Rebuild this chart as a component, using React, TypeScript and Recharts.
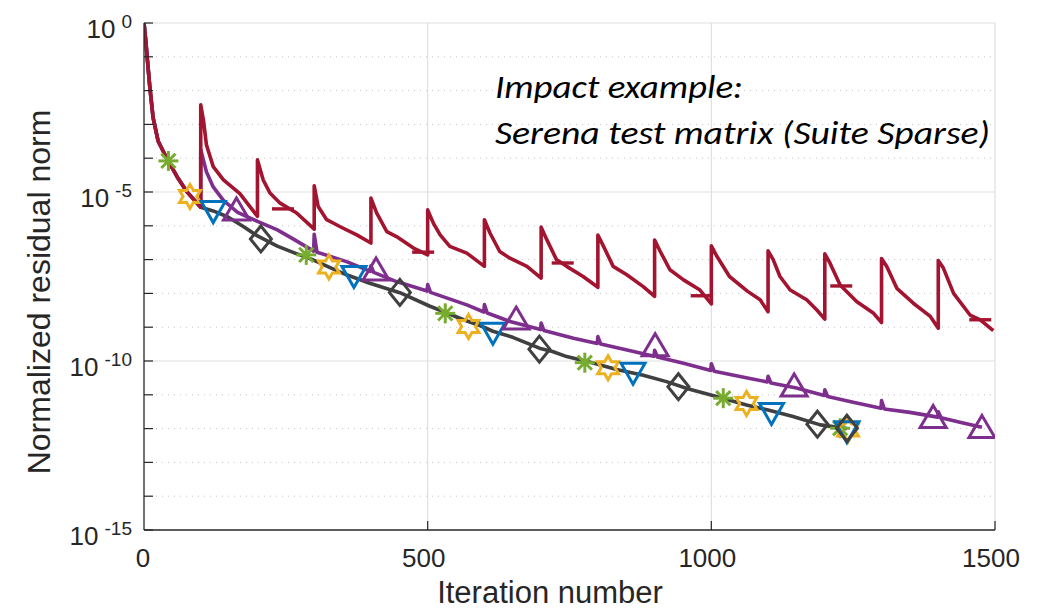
import { ComposedChart, Line, ReferenceLine, Scatter, XAxis, YAxis } from "recharts";

// every curve is stored as [iteration, log10(normalized residual)]
type Pt = [number, number];

const iterTicks = [0, 500, 1000, 1500];
const decades = [0, -1, -2, -3, -4, -5, -6, -7, -8, -9, -10, -11, -12, -13, -14, -15];
const labelledDecades = [0, -5, -10, -15];

const firstCycle: Pt[] = [
  [0, 0], [3, -0.5], [6, -1.09], [10, -1.85], [16, -2.8], [25, -3.5], [40, -4.0],
  [58, -4.54], [75, -4.98], [100, -5.45],
];

const restartedCurve: Pt[] = [
  ...firstCycle,
  [100, -2.42], [105, -2.9], [110, -3.6], [122, -4.25], [140, -4.64], [169, -5.05], [200, -5.72],
  [200, -4.05], [210, -4.64], [222, -5.03], [240, -5.33], [269, -5.62], [300, -6.1],
  [300, -4.82], [307, -5.43], [322, -5.82], [345, -6.02], [375, -6.27], [400, -6.51],
  [400, -5.18], [410, -5.62], [428, -6.17], [445, -6.32], [475, -6.66], [500, -6.86],
  [500, -5.53], [510, -5.92], [522, -6.27], [539, -6.61], [569, -6.81], [600, -7.2],
  [600, -5.82], [610, -6.22], [627, -6.76], [645, -6.96], [675, -7.2], [700, -7.55],
  [700, -6.04], [710, -6.41], [727, -7.0], [745, -7.2], [774, -7.5], [800, -7.82],
  [800, -6.27], [810, -6.61], [827, -7.2], [851, -7.45], [880, -7.8], [900, -8.09],
  [900, -6.42], [910, -6.76], [927, -7.3], [951, -7.6], [980, -7.9], [1000, -8.31],
  [1000, -6.59], [1010, -6.91], [1032, -7.5], [1064, -7.94], [1086, -8.19], [1100, -8.54],
  [1100, -6.74], [1109, -7.0], [1121, -7.5], [1139, -7.9], [1168, -8.19], [1186, -8.49], [1200, -8.76],
  [1200, -6.83], [1209, -7.1], [1227, -7.75], [1256, -8.24], [1286, -8.59], [1300, -8.86],
  [1300, -6.97], [1309, -7.2], [1327, -7.85], [1356, -8.29], [1386, -8.68], [1400, -9.03],
  [1400, -7.03], [1409, -7.25], [1427, -8.0], [1456, -8.64], [1474, -8.78], [1497, -9.1],
];

const purpleCurve: Pt[] = [
  ...firstCycle,
  [100, -3.75], [110, -4.4], [122, -4.85], [140, -5.25], [165, -5.6], [200, -5.87], [235, -6.12],
  [265, -6.41], [299, -6.75], [300, -6.25], [305, -6.78], [357, -7.06], [399, -7.35], [400, -7.18],
  [405, -7.38], [445, -7.65], [499, -7.93], [500, -7.74], [505, -7.97], [569, -8.34], [599, -8.55],
  [600, -8.33], [605, -8.58], [645, -8.83], [699, -9.07], [700, -8.88], [705, -9.1], [757, -9.33],
  [799, -9.48], [800, -9.28], [805, -9.5], [863, -9.72], [899, -9.86], [900, -9.68], [905, -9.88],
  [951, -10.07], [999, -10.28], [1000, -10.08], [1005, -10.3], [1068, -10.52], [1099, -10.62],
  [1100, -10.45], [1105, -10.65], [1150, -10.8], [1199, -11.02], [1200, -10.85], [1205, -11.05],
  [1250, -11.22], [1299, -11.4], [1300, -11.17], [1305, -11.42], [1350, -11.52], [1399, -11.66],
  [1400, -11.5], [1405, -11.68], [1440, -11.82], [1477, -11.96],
];

const darkCurve: Pt[] = [
  ...firstCycle,
  [122, -5.56], [148, -5.74], [175, -6.02], [200, -6.3], [235, -6.6], [265, -6.8], [297, -7.0],
  [330, -7.25], [357, -7.45], [398, -7.7], [451, -7.98], [504, -8.38], [530, -8.55], [563, -8.78],
  [592, -8.95], [615, -9.12], [650, -9.3], [697, -9.62], [720, -9.72], [745, -9.87], [790, -10.05],
  [833, -10.25], [880, -10.42], [921, -10.61], [960, -10.83], [1009, -11.05], [1062, -11.3],
  [1100, -11.45], [1144, -11.64], [1192, -11.89], [1239, -12.0],
];

const redMarks: Pt[] = [[245, -5.5], [492, -6.78], [738, -7.1], [983, -8.07], [1229, -7.78], [1474, -8.78]];
const purpleMarks: Pt[] = [[163, -5.5], [409, -7.28], [656, -8.73], [901, -9.52], [1146, -10.71], [1391, -11.64], [1477, -11.94]];
const darkMarks: Pt[] = [[206, -6.39], [451, -7.97], [697, -9.65], [942, -10.76], [1187, -11.87], [1239, -11.99]];
const greenMarks: Pt[] = [[43, -4.08], [286, -6.86], [531, -8.59], [777, -10.05], [1021, -11.1], [1227, -11.99]];
const yellowMarks: Pt[] = [[81, -5.13], [326, -7.22], [572, -8.98], [818, -10.2], [1062, -11.26], [1241, -12.04]];
const blueMarks: Pt[] = [[122, -5.58], [370, -7.5], [615, -9.18], [862, -10.36], [1106, -11.55], [1239, -12.09]];

const RED = "#A2142F";
const PURPLE = "#7E2F8E";
const DARK = "#404040";
const GREEN = "#77AC30";
const YELLOW = "#EDB120";
const BLUE = "#0072BD";
const AXIS = "#262626";
const GRID = "#dfdfdf";
const MINOR = "#c4c4c4";
const FONT = "'Liberation Sans', Arial, Helvetica, sans-serif";
const LINE_W = 3.6;
const MARK_W = 3;

const toPoints = (pts: Pt[]) => pts.map(([x, e]) => ({ x, y: Math.pow(10, e) }));

type MarkKind = "asterisk" | "hexagram" | "down" | "up" | "diamond" | "dash";

function Marker({ cx, cy, kind, color }: { cx: number; cy: number; kind: MarkKind; color: string }) {
  if (cx == null || cy == null) return null;
  const common = { fill: "none", stroke: color, strokeWidth: MARK_W };
  if (kind === "dash") {
    return <line x1={cx - 11} x2={cx + 11} y1={cy} y2={cy} stroke={color} strokeWidth={3.4} />;
  }
  if (kind === "up") {
    return <polygon points={`${cx},${cy - 11} ${cx + 13},${cy + 11} ${cx - 13},${cy + 11}`} {...common} />;
  }
  if (kind === "down") {
    return <polygon points={`${cx - 12},${cy - 10} ${cx + 12},${cy - 10} ${cx},${cy + 11}`} {...common} />;
  }
  if (kind === "diamond") {
    return <polygon points={`${cx},${cy - 13} ${cx + 10.5},${cy} ${cx},${cy + 13} ${cx - 10.5},${cy}`} {...common} />;
  }
  if (kind === "hexagram") {
    const pts: string[] = [];
    for (let i = 0; i < 12; i++) {
      const r = i % 2 === 0 ? 12 : 6.9;
      const a = -Math.PI / 2 + (i * Math.PI) / 6;
      pts.push(`${cx + r * Math.cos(a)},${cy + r * Math.sin(a)}`);
    }
    return <polygon points={pts.join(" ")} {...common} />;
  }
  // asterisk
  const d = 10;
  const k = 7.1;
  return (
    <g stroke={color} strokeWidth={MARK_W}>
      <line x1={cx - d} x2={cx + d} y1={cy} y2={cy} />
      <line x1={cx} x2={cx} y1={cy - d} y2={cy + d} />
      <line x1={cx - k} x2={cx + k} y1={cy - k} y2={cy + k} />
      <line x1={cx - k} x2={cx + k} y1={cy + k} y2={cy - k} />
    </g>
  );
}

function YTick(props: any) {
  const { x, y, payload } = props;
  const e = Math.round(Math.log10(payload.value));
  return (
    <g>
      <line x1={x} x2={x + 9} y1={y} y2={y} stroke={AXIS} strokeWidth={1.2} />
      {labelledDecades.includes(e) && (
        <text x={x - 12} y={y + 15} textAnchor="end" fill={AXIS} fontFamily={FONT} fontSize={26}>
          <tspan>10</tspan>
          <tspan dx={6} dy={-10} fontSize={19}>{e}</tspan>
        </text>
      )}
    </g>
  );
}

function XTick(props: any) {
  const { x, y, payload } = props;
  return (
    <g>
      {payload.value > 0 && <line x1={x} x2={x} y1={y} y2={y - 9} stroke={AXIS} strokeWidth={1.2} />}
      <text x={payload.value > 0 ? x - 4 : x - 1} y={y + 37} textAnchor="middle" fill={AXIS} fontFamily={FONT} fontSize={26}>
        {payload.value}
      </text>
    </g>
  );
}

const markShape = (kind: MarkKind, color: string) => (p: any) => (
  <Marker cx={p.cx} cy={p.cy} kind={kind} color={color} />
);

export default function App() {
  return (
    <div style={{ position: "absolute", left: 0, top: 0, width: 1043, height: 609, background: "#fff" }}>
      <ComposedChart width={1043} height={609} margin={{ top: 23, right: 48, bottom: 0, left: 0 }}>
        <XAxis
          dataKey="x"
          type="number"
          domain={[0, 1500]}
          ticks={iterTicks}
          height={79}
          tickSize={0}
          tickMargin={0}
          tick={<XTick />}
          axisLine={{ stroke: AXIS, strokeWidth: 1.3 }}
          tickLine={false}
          allowDataOverflow
        />
        <YAxis
          dataKey="y"
          type="number"
          scale="log"
          domain={[1e-15, 1]}
          ticks={decades.map((e) => Math.pow(10, e))}
          width={144}
          tickSize={0}
          tickMargin={0}
          tick={<YTick />}
          axisLine={{ stroke: AXIS, strokeWidth: 1.3 }}
          tickLine={false}
          interval={0}
          allowDataOverflow
        />
        {decades.slice(0, -1).map((e) => (
          <ReferenceLine
            key={`h${e}`}
            y={Math.pow(10, e)}
            stroke={labelledDecades.includes(e) ? GRID : MINOR}
            strokeWidth={labelledDecades.includes(e) ? 1.2 : 1}
            strokeDasharray={labelledDecades.includes(e) ? undefined : "1 5"}
          />
        ))}
        {iterTicks.slice(1).map((v) => (
          <ReferenceLine key={`v${v}`} x={v} stroke={GRID} strokeWidth={1.2} />
        ))}
        <Scatter data={toPoints(greenMarks)} dataKey="y" isAnimationActive={false} shape={markShape("asterisk", GREEN)} />
        <Scatter data={toPoints(yellowMarks)} dataKey="y" isAnimationActive={false} shape={markShape("hexagram", YELLOW)} />
        <Scatter data={toPoints(blueMarks)} dataKey="y" isAnimationActive={false} shape={markShape("down", BLUE)} />
        <Line data={toPoints(darkCurve)} dataKey="y" stroke={DARK} strokeWidth={LINE_W} dot={false} isAnimationActive={false} strokeLinejoin="round" />
        <Scatter data={toPoints(darkMarks)} dataKey="y" isAnimationActive={false} shape={markShape("diamond", DARK)} />
        <Line data={toPoints(purpleCurve)} dataKey="y" stroke={PURPLE} strokeWidth={LINE_W} dot={false} isAnimationActive={false} strokeLinejoin="round" />
        <Scatter data={toPoints(purpleMarks)} dataKey="y" isAnimationActive={false} shape={markShape("up", PURPLE)} />
        <Line data={toPoints(restartedCurve)} dataKey="y" stroke={RED} strokeWidth={LINE_W} dot={false} isAnimationActive={false} strokeLinejoin="round" />
        <Scatter data={toPoints(redMarks)} dataKey="y" isAnimationActive={false} shape={markShape("dash", RED)} />
      </ComposedChart>
      <svg width={1043} height={609} style={{ position: "absolute", left: 0, top: 0, pointerEvents: "none" }}>
        <text x={550} y={603} textAnchor="middle" fill={AXIS} fontFamily={FONT} fontSize={31}>
          Iteration number
        </text>
        <text
          transform="translate(50 292) rotate(-90)"
          textAnchor="middle"
          fill={AXIS}
          fontFamily={FONT}
          fontSize={32}
        >
          Normalized residual norm
        </text>
        <g fontFamily="Carlito, Calibri, 'Open Sans', sans-serif" fontStyle="italic" fontSize={32} fill="#000">
          <text x={495} y={98} textLength={248} lengthAdjust="spacingAndGlyphs">Impact example:</text>
          <text x={495} y={144} textLength={495} lengthAdjust="spacingAndGlyphs">Serena test matrix (Suite Sparse)</text>
        </g>
      </svg>
    </div>
  );
}
